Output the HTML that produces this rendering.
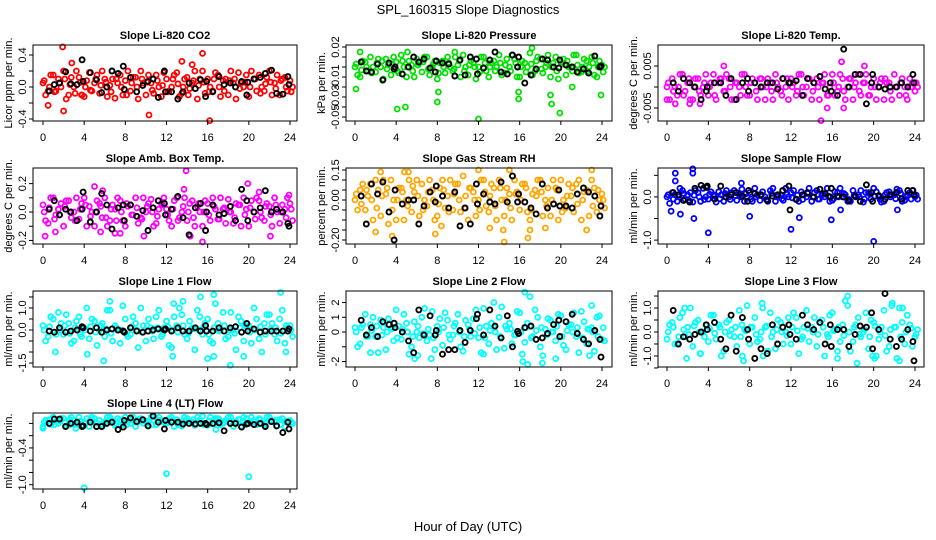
<!DOCTYPE html>
<html><head><meta charset="utf-8">
<style>
html,body{margin:0;padding:0;background:#fff;}
svg{display:block;font-family:"Liberation Sans",Arial,sans-serif;}
</style></head>
<body>
<svg id="chart" width="936" height="540" viewBox="0 0 936 540" xmlns="http://www.w3.org/2000/svg">
<rect x="0" y="0" width="936" height="540" fill="#fff"/>
<text x="468" y="14" text-anchor="middle" font-size="13">SPL_160315  Slope Diagnostics</text>
<text x="468" y="531" text-anchor="middle" font-size="13">Hour of Day (UTC)</text>
</svg>
<script>
const HOURS = [0,0.5,1,1.5,2,2.5,3,3.5,4,4.5,5,5.5,6,6.5,7,7.5,8,8.5,9,9.5,10,10.5,11,11.5,12,12.5,13,13.5,14,14.5,15,15.5,16,16.5,17,17.5,18,18.5,19,19.5,20,20.5,21,21.5,22,22.5,23,23.5,24];
const BLACK_HOURS = [0.6,1.1,1.6,2.2,2.7,3.3,3.8,3.9,4.6,5.2,5.7,6.2,6.7,7.3,7.8,7.9,8.5,9.1,9.7,10.2,10.7,11.2,11.8,11.9,12.5,13.1,13.6,14.2,14.8,15.3,15.8,15.9,16.5,17.1,17.6,18.2,18.7,19.3,19.8,19.9,20.5,21.1,21.6,22.2,22.7,23.3,23.8,23.9];
const X_TICKS = [0,4,8,12,16,20,24];
const TITLES = ["Slope Li-820 CO2","Slope Li-820 Pressure","Slope Li-820 Temp.","Slope Amb. Box Temp.","Slope Gas Stream RH","Slope Sample Flow","Slope Line 1 Flow","Slope Line 2 Flow","Slope Line 3 Flow","Slope Line 4 (LT) Flow"];
const YLABELS = ["Licor ppm per min.","kPa per min.","degrees C per min.","degrees C per min.","percent per min.","ml/min per min.","ml/min per min.","ml/min per min.","ml/min per min.","ml/min per min."];

const co2A = [0.05,-0.05,0.15,0.1,0.2,-0.1,0.0,0.12,-0.12,0.18,0.05,-0.08,0.1,0.02,-0.14,0.15,0.08,-0.05,0.12,0.2,-0.1,0.05,0.15,-0.12,0.1,0.0,0.18,-0.08,0.12,0.05,-0.15,0.2,0.1,-0.05,0.15,0.08,-0.1,0.05,0.18,0.0,-0.12,0.1,0.15,-0.05,0.2,0.05,-0.1,0.12,0.08];
const co2B = [-0.1,0.15,-0.05,0.0,-0.15,0.12,0.2,-0.1,0.08,-0.05,0.15,0.2,-0.12,0.1,0.05,-0.1,0.2,0.12,-0.15,0.05,0.15,-0.08,0.0,0.18,-0.05,0.15,-0.12,0.1,-0.02,0.2,0.1,-0.08,0.0,0.18,-0.12,0.1,0.2,-0.15,0.05,0.15,0.2,-0.05,0.0,0.12,-0.1,0.15,0.1,-0.05,0.0];
const co2C = [0.08,0.0,-0.06,0.05,0.1,0.03,-0.08,0.06,0.0,-0.04,0.1,0.02,0.06,-0.06,0.1,0.0,-0.1,0.05,0.0,0.1,0.06,-0.04,0.08,0.02,-0.06,0.1,0.04,0.0,-0.1,0.08,0.02,0.06,-0.06,0.1,0.0,-0.05,0.08,0.1,-0.02,0.06,0.0,0.1,-0.08,0.04,0.06,-0.02,0.08,0.0,-0.06];
const co2OutT = [1.9,2.0,0.5,10.3,15.5,16.2,2.8,3.8,13.5,14.5];
const co2OutY = [0.5,-0.3,-0.23,-0.35,0.42,-0.42,0.3,-0.1,0.32,0.28];
const co2Black = [-0.05,0.03,0.05,0.19,0.04,0.03,0.34,0.07,0.18,0.09,-0.07,0.0,0.2,0.17,0.26,-0.03,0.12,-0.06,0.02,0.07,0.1,-0.13,0.2,-0.06,-0.06,-0.15,-0.06,0.05,-0.02,0.09,-0.12,0.07,-0.06,0.13,0.03,0.05,0.0,0.07,-0.1,0.06,0.1,0.12,0.17,0.21,-0.08,-0.09,0.13,0.03];

const presA = [0.0,-0.01,0.005,0.01,-0.005,0.0,0.008,-0.008,0.005,0.012,-0.01,0.002,0.008,-0.005,0.01,0.0,-0.012,0.006,0.01,-0.004,0.002,0.012,-0.008,0.004,0.0,0.01,-0.01,0.006,0.012,-0.006,0.0,0.008,-0.01,0.004,0.014,-0.004,0.008,0.0,-0.01,0.01,0.005,-0.008,0.0,0.012,-0.005,0.006,0.01,-0.01,0.002];
const presB = [-0.008,0.006,-0.004,0.0,0.008,-0.012,0.002,0.01,-0.006,0.0,0.006,-0.01,0.004,0.01,-0.008,0.006,0.004,-0.006,0.0,0.01,-0.01,0.0,0.006,-0.012,0.01,-0.004,0.004,0.0,-0.008,0.008,0.012,-0.01,0.006,0.0,-0.008,0.01,-0.006,0.012,0.004,-0.012,0.008,0.0,0.012,-0.006,0.008,0.0,-0.008,0.006,0.0];
const presC = [0.003,-0.003,0.0,-0.006,0.004,0.006,-0.002,0.003,-0.004,0.006,0.0,-0.004,0.002,0.005,-0.002,0.003,-0.006,0.0,0.004,-0.002,0.006,-0.004,0.002,0.0,-0.005,0.004,0.0,-0.004,0.004,0.002,-0.004,0.004,0.0,-0.005,0.003,0.006,-0.002,0.004,0.0,-0.004,0.003,0.006,-0.004,0.002,0.0,-0.004,0.004,0.0,-0.005];
const presOutT = [0.1,0.5,4.1,4.9,8.0,12.0,15.9,19.0,19.1,19.9,23.9,9.7,17.2,15.9,8.1,5.1,21.1];
const presOutY = [-0.022,0.015,-0.042,-0.04,-0.035,-0.052,-0.032,-0.028,-0.037,-0.046,-0.028,0.015,0.019,-0.025,-0.025,0.015,-0.02];
const presBlack = [0.005,-0.004,-0.005,0.003,-0.013,0.004,-0.002,0.0,-0.007,0.0,0.01,0.005,0.008,-0.001,-0.005,0.006,0.004,0.003,-0.009,0.007,-0.008,0.01,0.008,-0.007,-0.001,0.007,0.015,-0.005,-0.007,0.012,0.0,0.01,-0.016,-0.008,-0.002,0.008,0.007,0.0,-0.001,0.007,0.002,0.0,-0.005,-0.002,-0.006,0.011,0.0,0.001];

const tempA = [0.0,0.002,-0.002,0.003,0.001,-0.003,0.002,0.0,-0.002,0.003,0.001,-0.001,0.002,-0.003,0.0,0.003,-0.002,0.001,0.002,-0.003,0.001,0.003,-0.001,0.0,0.002,-0.002,0.003,0.0,-0.003,0.002,0.001,-0.002,0.003,-0.001,0.002,0.0,-0.003,0.003,0.001,-0.002,0.002,0.0,-0.003,0.001,0.003,-0.002,0.0,0.002,-0.001];
const tempB = [-0.003,0.0,0.003,-0.001,-0.003,0.002,-0.002,0.003,0.001,-0.003,0.002,0.003,-0.003,0.001,0.003,-0.002,0.002,-0.003,0.0,0.002,-0.003,0.0,0.002,-0.003,0.001,0.003,-0.002,0.002,0.001,-0.003,0.003,0.0,-0.002,0.003,-0.003,0.002,0.001,-0.002,0.003,0.0,-0.003,0.002,0.001,-0.003,0.0,0.002,-0.003,0.001,0.0];
const tempC = [0.001,-0.001,0.0,-0.002,0.002,0.0,-0.001,0.001,0.0,-0.002,0.002,-0.001,0.0,0.001,-0.002,0.0,0.001,-0.001,0.002,0.0,-0.001,0.001,-0.002,0.002,0.0,-0.001,0.0,0.002,-0.001,0.0,0.001,-0.002,0.001,0.0,-0.001,0.002,0.0,-0.001,0.001,-0.002,0.0,0.001,0.002,-0.001,0.0,0.001,-0.002,0.0,0.001];
const tempOutT = [0.0,0.8,2.2,3.2,5.5,15.5,14.9,16.9,19.1,17.1];
const tempOutY = [-0.003,-0.004,-0.004,-0.004,0.005,-0.005,-0.008,0.006,0.005,-0.005];
const tempBlack = [0.001,-0.001,0.002,0.001,0.0,-0.003,-0.001,0.0,0.001,0.001,-0.002,0.002,-0.003,0.001,0.002,-0.001,0.001,0.0,0.001,0.001,-0.0005,0.002,0.001,0.001,0.0015,-0.002,0.002,0.001,0.0025,-0.0005,0.001,-0.001,-0.002,0.009,0.0,0.003,0.003,-0.004,0.001,0.003,0.0,-0.0005,0.0,0.0,0.001,0.0,0.003,0.001];

const boxA = [0.05,-0.08,0.1,0.02,-0.1,0.08,0.0,-0.05,0.1,0.04,-0.1,0.06,0.1,-0.06,0.02,0.08,-0.1,0.05,0.1,-0.04,0.0,0.09,-0.08,0.06,0.02,-0.1,0.1,0.0,-0.06,0.08,0.04,-0.1,0.06,0.1,-0.05,0.02,0.09,-0.08,0.05,0.1,-0.1,0.0,0.08,-0.06,0.04,0.1,-0.08,0.02,0.06];
const boxB = [-0.06,0.1,-0.02,0.06,0.08,-0.04,0.1,0.06,-0.1,0.0,0.08,-0.04,-0.1,0.05,0.1,-0.06,0.04,-0.02,-0.08,0.1,0.06,-0.1,0.02,0.1,-0.06,0.08,-0.04,0.1,0.06,-0.1,0.0,0.08,-0.06,0.02,0.1,-0.08,0.0,0.06,-0.1,0.02,0.08,0.1,-0.04,0.06,-0.1,0.0,0.05,0.1,-0.06];
const boxC = [0.0,0.03,-0.05,-0.02,0.04,0.0,-0.06,0.02,0.05,-0.03,0.0,0.04,-0.04,0.02,-0.06,0.0,0.06,-0.02,0.03,-0.05,0.04,0.0,-0.03,0.05,-0.02,0.02,-0.06,0.04,0.0,-0.04,0.06,0.0,-0.02,0.04,-0.05,0.03,0.0,-0.04,0.05,-0.02,0.03,-0.05,0.0,0.04,-0.02,0.05,0.0,-0.04,0.02];
const boxOutT = [0.2,1.2,5.0,5.8,7.0,13.9,13.7,15.5,14.3,19.9,22.1,23.9,9.8,7.5,5.6,21.0];
const boxOutY = [-0.17,-0.14,0.18,0.15,-0.15,0.29,0.16,-0.21,-0.17,0.2,-0.17,0.12,-0.17,-0.15,-0.14,0.14];
const boxBlack = [0.02,0.08,-0.02,0.02,0.0,-0.06,0.02,0.14,-0.07,0.0,0.13,0.05,-0.12,0.03,0.05,-0.06,0.05,-0.03,0.01,-0.13,0.03,0.08,0.06,-0.02,0.02,0.11,-0.04,-0.16,0.03,0.06,-0.13,0.0,0.05,-0.02,-0.01,0.04,-0.06,0.16,0.08,-0.06,0.0,0.03,0.15,0.0,0.02,0.0,-0.08,-0.1];

const rhA = [0.0,0.05,-0.05,0.08,0.1,-0.08,0.03,0.1,-0.1,0.06,0.0,-0.06,0.1,0.08,-0.03,0.05,-0.08,0.1,0.02,-0.05,0.08,0.12,-0.1,0.04,0.0,0.1,-0.06,0.06,0.1,-0.08,0.03,0.1,-0.05,0.08,-0.1,0.05,0.1,0.0,-0.08,0.06,0.1,-0.04,0.02,0.08,-0.1,0.05,0.1,-0.06,0.03];
const rhB = [-0.05,0.08,0.02,-0.1,0.05,0.1,-0.12,0.0,0.06,-0.1,0.1,0.04,-0.08,0.0,0.1,-0.1,0.06,-0.04,0.1,0.08,-0.06,0.02,0.06,-0.08,0.1,-0.03,0.08,-0.1,0.0,0.06,-0.1,0.04,0.08,-0.06,0.03,0.1,-0.08,0.06,0.1,-0.1,0.0,0.08,-0.06,0.1,0.04,-0.08,0.06,0.0,-0.04];
const rhC = [0.03,-0.02,0.05,0.0,-0.04,0.02,0.06,-0.05,0.0,0.04,-0.03,0.07,0.02,-0.05,0.04,0.0,-0.02,0.05,-0.06,0.03,0.0,-0.04,0.06,0.0,-0.05,0.04,0.02,-0.03,0.06,0.0,-0.04,0.03,0.0,0.06,-0.05,0.02,0.04,-0.03,0.0,0.05,-0.06,0.02,0.06,-0.02,0.0,0.04,-0.03,0.05,0.0];
const rhOutT = [2.0,2.5,3.6,4.8,5.2,12.0,14.4,14.5,16.8,17.0,18.5,22.5,23.0,15.0,7.8,8.4,13.1];
const rhOutY = [-0.16,0.14,-0.18,0.14,0.14,0.15,-0.15,-0.21,-0.19,-0.15,-0.14,-0.15,0.15,0.15,-0.17,-0.13,-0.14];
const rhBlack = [0.02,-0.12,0.08,0.03,0.09,-0.06,-0.2,0.05,-0.02,0.0,0.0,-0.12,-0.03,0.04,-0.01,0.07,0.02,-0.04,0.04,-0.13,-0.04,-0.12,0.08,-0.02,0.03,-0.01,-0.02,0.09,-0.01,0.12,-0.01,0.03,-0.01,-0.04,-0.07,0.08,-0.04,-0.02,0.05,-0.03,-0.03,-0.04,0.03,0.06,0.04,0.02,-0.08,-0.03];

const sfA = [0.0,0.1,-0.1,0.15,0.05,-0.12,0.1,0.2,-0.05,0.05,0.12,-0.1,0.0,0.15,0.05,-0.1,0.1,0.2,-0.08,0.0,0.15,-0.1,0.05,0.2,0.1,-0.05,0.12,0.0,-0.1,0.15,0.05,0.2,-0.08,0.1,0.0,-0.1,0.15,0.05,-0.12,0.1,0.2,0.0,-0.1,0.12,0.05,0.15,-0.08,0.1,0.0];
const sfB = [-0.15,0.05,0.2,-0.05,0.1,0.15,-0.1,0.0,0.12,-0.12,0.05,0.15,0.1,-0.08,0.18,0.0,-0.1,0.05,0.12,-0.1,0.2,0.05,-0.08,0.0,0.15,-0.1,0.05,0.2,0.1,-0.05,0.0,-0.1,0.12,0.2,0.05,-0.1,0.0,0.15,0.1,-0.05,0.12,-0.12,0.1,0.05,0.18,-0.1,0.05,0.15,-0.05];
const sfC = [0.05,-0.05,0.0,0.08,-0.08,0.04,0.0,-0.06,0.06,0.02,-0.04,0.08,-0.06,0.03,0.0,0.07,-0.05,0.0,0.05,-0.06,0.08,0.0,-0.04,0.06,-0.02,0.04,-0.06,0.08,0.0,-0.05,0.06,0.02,-0.04,0.0,0.08,-0.06,0.04,0.0,-0.05,0.07,0.02,-0.06,0.05,0.0,-0.04,0.08,0.0,-0.05,0.04];
const sfOutT = [0.8,0.8,1.3,2.5,2.5,2.6,0.4,4.0,8.0,12.0,12.8,15.9,20.0,7.2,22.3,16.8];
const sfOutY = [0.55,0.37,-0.4,0.65,0.55,-0.5,-0.33,-0.83,-0.45,-0.75,-0.48,-0.53,-1.03,0.32,-0.3,-0.3];
const sfBlack = [0.1,0.05,-0.08,-0.12,0.2,0.27,0.22,0.25,-0.05,0.25,0.0,0.05,0.1,0.02,-0.1,0.15,0.08,0.05,-0.08,0.02,0.05,0.15,0.25,-0.3,-0.06,0.05,0.1,0.0,0.18,0.08,0.0,0.2,0.02,0.0,-0.08,0.02,-0.1,0.28,0.1,-0.1,0.03,-0.05,0.05,0.1,-0.05,0.15,0.15,0.05];

const l1A = [0.2,-0.3,0.5,0.8,-0.2,0.3,-0.5,0.6,0.1,-0.4,0.4,0.0,-0.3,0.9,0.2,-0.6,0.5,-0.2,0.3,1.0,-0.5,0.1,0.6,-0.3,0.4,-0.8,0.2,0.7,-0.4,0.1,0.9,-0.2,0.5,-0.6,0.3,0.8,-0.3,0.0,0.6,-0.5,0.2,1.0,-0.4,0.3,0.7,-0.2,0.5,-0.6,0.2];
const l1B = [-0.5,0.6,-0.2,0.3,0.7,-0.6,0.4,-0.3,1.0,0.5,-0.7,0.3,0.9,-0.5,0.0,1.1,-0.3,0.6,-0.8,0.2,0.5,-0.4,0.9,0.1,-0.7,0.6,1.0,-0.2,0.4,-0.9,0.6,0.3,-0.5,1.2,0.0,-0.4,0.8,-0.9,0.4,0.2,-0.6,0.5,-1.0,0.7,0.3,-0.5,0.9,0.1,-0.3];
const l1C = [0.0,0.15,-0.1,0.0,0.2,-0.15,0.1,-0.2,0.0,0.15,-0.1,0.2,0.05,-0.15,0.1,0.0,-0.2,0.15,0.0,-0.1,0.2,-0.05,0.1,-0.2,0.15,0.0,-0.1,0.2,-0.15,0.05,0.0,0.15,-0.2,0.1,-0.05,0.2,0.0,-0.15,0.1,0.2,-0.1,0.0,0.15,-0.2,0.05,0.1,-0.15,0.2,0.0];
const l1OutT = [5.9,6.5,12.6,12.7,13.6,15.3,16.0,16.6,18.2,19.5,23.1,23.6,1.2,4.3,16.6];
const l1OutY = [-1.4,1.3,-1.2,1.2,1.3,1.5,-1.3,1.6,-1.6,-1.2,1.7,-1.0,-1.0,-1.1,-1.2];
const l1Black = [-0.05,-0.1,0.1,-0.1,-0.05,0.0,0.15,0.1,-0.05,0.1,-0.1,0.0,0.05,0.0,-0.05,-0.1,0.1,-0.05,-0.1,-0.05,0.0,0.05,0.0,0.05,-0.05,0.1,-0.05,-0.05,0.1,-0.05,0.2,-0.05,-0.05,0.1,-0.05,0.1,0.15,-0.1,0.3,-0.05,0.05,-0.1,-0.05,-0.05,-0.05,-0.05,-0.05,0.05];

const l2A = [0.3,-0.8,1.2,0.5,-0.3,0.8,-1.2,0.2,1.5,-0.5,0.6,-1.0,0.0,1.0,-0.6,1.4,0.4,-0.9,0.8,-0.2,1.2,-1.3,0.5,0.9,-0.4,1.6,-0.8,0.3,1.0,-1.1,0.6,-0.2,1.3,-0.7,0.4,1.5,-1.0,0.2,0.8,-0.6,1.1,-1.2,0.5,-0.3,1.4,-0.8,0.3,1.0,-0.5];
const l2B = [-1.0,0.5,-0.3,1.0,-1.4,0.3,0.9,-0.6,0.4,1.2,-1.5,0.7,-0.4,1.6,-0.2,-1.2,0.9,1.3,-0.5,0.6,-1.0,0.8,-0.3,1.5,-1.4,0.4,0.6,-1.2,1.7,0.2,-0.8,1.4,-1.5,0.6,-0.3,1.0,-1.6,0.9,0.0,1.2,-0.9,0.5,1.3,-1.4,0.7,0.2,-1.3,1.1,-0.6];
const l2C = [0.0,0.3,-0.3,0.1,0.4,-0.2,0.0,0.3,-0.4,0.2,0.0,-0.3,0.4,-0.1,0.2,-0.4,0.0,0.3,-0.2,0.4,0.0,-0.3,0.2,-0.1,0.3,-0.4,0.1,0.0,-0.3,0.4,0.2,-0.2,0.0,0.3,-0.4,0.1,0.3,-0.2,0.0,0.4,-0.3,0.1,0.0,0.3,-0.4,0.2,0.0,-0.3,0.3];
const l2OutT = [1.5,5.8,6.1,7.4,12.5,13.5,16.5,17.0,16.3,16.8,18.2,19.5,22.8,23.0];
const l2OutY = [-1.4,-1.8,-1.6,-1.8,-1.5,2.0,2.7,2.4,-2.0,-2.2,-2.1,-1.8,-1.6,1.8];
const l2Black = [0.8,-0.2,0.3,-0.3,0.7,0.5,0.6,0.3,0.0,-0.6,-1.4,1.5,-0.2,1.1,-0.2,0.1,-1.5,-1.2,-1.2,0.1,-0.7,0.1,0.9,1.2,-0.2,1.5,0.4,-0.4,1.1,-1.0,0.05,-0.1,0.3,0.4,-0.5,-0.4,-0.1,0.5,0.8,-0.3,0.7,1.2,-0.1,-0.5,-0.8,0.1,-0.5,-1.7];

const l3A = [-0.3,0.4,-0.5,0.8,0.2,-0.6,0.5,0.0,-0.4,0.7,0.3,-0.8,0.5,-0.2,0.9,0.1,-0.5,0.6,-0.3,0.2,0.8,-0.7,0.4,0.0,-0.5,0.6,-0.3,0.9,0.2,-0.6,0.5,-0.1,0.8,-0.8,0.3,1.1,-0.4,0.6,0.0,-0.7,0.4,-0.3,0.9,-0.6,0.2,1.0,-0.5,0.3,-0.2];
const l3B = [0.3,-0.5,0.6,-0.2,1.0,0.4,-0.9,0.3,0.7,-0.3,-1.0,0.4,0.1,-0.6,0.3,1.1,0.2,-0.4,1.0,-0.8,0.0,0.5,-0.5,0.6,0.8,-0.9,0.2,-0.4,0.6,0.4,-1.0,0.7,0.1,-0.4,1.3,-0.8,0.3,-0.2,0.8,0.5,-1.0,0.2,-0.8,1.1,-1.1,0.4,0.7,-0.6,0.1];
const l3C = [0.0,0.2,-0.2,0.1,-0.1,0.25,0.0,-0.2,0.15,-0.05,0.2,0.0,-0.15,0.2,-0.2,0.05,0.2,-0.1,0.0,0.25,-0.2,0.1,0.0,-0.15,0.2,0.05,-0.2,0.15,0.0,-0.1,0.2,-0.2,0.05,0.2,-0.15,0.0,0.2,-0.1,0.1,-0.2,0.25,0.0,-0.15,0.1,0.2,-0.2,0.0,0.15,-0.1];
const l3OutT = [1.7,1.9,3.2,7.3,7.4,9.2,9.3,17.5,18.4,19.9,20.1,21.8,22.5,22.8,16.5];
const l3OutY = [1.0,-1.1,-0.9,-1.0,-1.2,1.2,-1.0,1.5,-1.3,-1.0,-1.1,1.2,-1.2,1.0,-1.1];
const l3Black = [0.9,-0.5,-0.2,-0.3,-0.1,0.0,0.3,0.1,0.4,-0.3,-0.7,0.7,-0.8,0.6,0.1,-0.3,-1.1,-0.7,-0.9,0.3,-0.5,0.2,0.3,-0.1,-0.3,0.7,0.3,0.1,0.4,-0.5,0.3,-0.6,0.1,0.1,-0.6,-0.1,0.25,0.2,0.8,-0.7,0.1,1.6,-0.3,-0.6,-0.3,0.1,-0.4,-1.2];

const l4A = [-0.05,0.05,0.1,0.0,0.08,-0.03,0.05,0.1,0.02,-0.05,0.08,0.05,0.0,0.1,-0.03,0.06,0.1,0.0,-0.05,0.08,0.04,0.1,-0.02,0.05,0.0,0.1,0.06,-0.04,0.08,0.02,0.1,0.12,-0.03,0.05,0.08,0.0,0.1,-0.05,0.06,0.1,0.0,0.05,0.08,-0.03,0.1,0.02,0.06,-0.05,0.05];
const l4B = [0.05,-0.02,0.03,0.08,-0.04,0.1,0.0,-0.03,0.08,0.1,0.0,-0.05,0.1,0.04,0.08,-0.02,0.03,0.1,0.06,0.0,-0.04,0.05,0.1,0.02,0.08,-0.05,0.0,0.1,0.04,-0.03,0.06,0.0,0.1,0.08,-0.02,0.05,0.1,0.03,-0.04,0.08,0.1,-0.02,0.0,0.1,0.05,-0.04,0.08,0.03,0.0];
const l4C = [0.02,0.06,-0.02,0.04,0.02,0.06,-0.02,0.04,0.0,0.06,0.02,-0.02,0.04,0.06,0.0,0.03,-0.02,0.06,0.02,0.04,0.0,-0.02,0.06,0.03,0.02,0.05,-0.02,0.04,0.0,0.06,0.02,-0.02,0.04,0.0,0.06,0.02,0.03,0.0,0.06,-0.02,0.04,0.02,0.06,0.0,0.03,0.05,-0.02,0.04,0.02];
const l4OutT = [0.0,4.0,12.0,20.0,16.8,3.2];
const l4OutY = [-0.08,-1.05,-0.82,-0.87,-0.1,-0.08];
const l4Black = [0.0,0.07,0.07,-0.05,0.0,0.02,-0.05,-0.04,0.02,-0.05,-0.05,0.0,0.02,-0.1,-0.06,0.05,0.09,0.03,0.06,-0.04,0.12,0.02,-0.09,0.05,0.02,0.02,-0.01,0.0,-0.01,0.0,0.0,-0.02,0.0,0.01,-0.12,0.0,0.0,-0.06,-0.01,0.0,-0.02,0.0,-0.05,0.03,-0.04,-0.15,0.02,-0.09];

const Y_TICKS = [[-0.4,-0.2,0,0.2,0.4],[-0.05,-0.04,-0.03,-0.02,-0.01,0,0.01,0.02],[-0.005,0,0.005],[-0.2,-0.1,0,0.1,0.2],[-0.2,-0.15,-0.1,-0.05,0,0.05,0.1,0.15],[-1,-0.5,0,0.5],[-1.5,-1,-0.5,0,0.5,1,1.5],[-2,-1,0,1,2],[-1.5,-1,-0.5,0,0.5,1,1.5],[-1,-0.8,-0.6,-0.4,-0.2,0]];
const Y_TICK_LABELS = [["-0.4","","0.0","","0.4"],["-0.05","","-0.03","","-0.01","","","0.02"],["-0.005","","0.005"],["-0.2","","0.0","","0.2"],["-0.20","","","","0.00","","","0.15"],["-1.0","","0.0",""],["-1.5","","","0.0","","1.0",""],["-2","","0","1","2"],["","-1.0","","0.0","","1.0",""],["-1.0","","","-0.4","",""]];

const svg = document.getElementById('chart');
const NS = 'http://www.w3.org/2000/svg';
function mk(tag, attrs, parent){ const e=document.createElementNS(NS,tag); for(const k in attrs) e.setAttribute(k,attrs[k]); (parent||svg).appendChild(e); return e; }

const COLS = [{l:33,r:297,x0:43,x24:290},{l:346,r:612,x0:355,x24:602},{l:658,r:924,x0:667,x24:915}];
const ROWS = [{t:45,b:121},{t:168,b:244},{t:291,b:367},{t:413,b:489}];
const DOMAINS = [[-0.425,0.525],[-0.054,0.022],[-0.0081,0.0100],[-0.225,0.31],[-0.22,0.16],[-1.09,0.67],[-1.68,1.77],[-2.37,2.78],[-1.46,1.71],[-1.07,0.17]];
const COLORS = ['#FF0000','#00E000','#FF00FF','#FF00FF','#FFA500','#0000FF','#00FFFF','#00FFFF','#00FFFF','#00FFFF'];
const SERIES = [
 [co2A,co2B,co2C,co2OutT,co2OutY,co2Black],[presA,presB,presC,presOutT,presOutY,presBlack],[tempA,tempB,tempC,tempOutT,tempOutY,tempBlack],
 [boxA,boxB,boxC,boxOutT,boxOutY,boxBlack],[rhA,rhB,rhC,rhOutT,rhOutY,rhBlack],[sfA,sfB,sfC,sfOutT,sfOutY,sfBlack],
 [l1A,l1B,l1C,l1OutT,l1OutY,l1Black],[l2A,l2B,l2C,l2OutT,l2OutY,l2Black],[l3A,l3B,l3C,l3OutT,l3OutY,l3Black],[l4A,l4B,l4C,l4OutT,l4OutY,l4Black]];

for(let p=0;p<10;p++){
  const col=COLS[p%3], row=ROWS[Math.floor(p/3)];
  const g = mk('g',{});
  
  
  const dom=DOMAINS[p];
  const xs = h => col.x0 + (col.x24-col.x0)*h/24;
  const ys = v => row.b - (v-dom[0])/(dom[1]-dom[0])*(row.b-row.t);
  const ttl = mk('text',{x:(col.l+col.r)/2,y:row.t-6,'text-anchor':'middle','font-size':'11','font-weight':'bold'},g);
  ttl.textContent = TITLES[p];
  
  
  const tx = col.l-21, tyc=(row.t+row.b)/2;
  const yl = mk('text',{x:tx,y:tyc,'text-anchor':'middle','font-size':'11',transform:'rotate(-90 '+tx+' '+tyc+')'},g);
  yl.textContent = YLABELS[p];
  
  
  const [A,B,C,OT,OY,BL] = SERIES[p];
  const clr = COLORS[p];
  const drawPt=(x,y,c,w,name)=>{ const c1=mk('circle',{cx:x.toFixed(1),cy:y.toFixed(1),r:2.5,fill:'none',stroke:c,'stroke-width':w},g);
    
     };
  for(let i=0;i<Math.min(HOURS.length,A.length);i++) drawPt(xs(HOURS[i]),ys(A[i]),clr,1.8,'point');
  for(let i=0;i<Math.min(HOURS.length,B.length);i++) drawPt(xs(HOURS[i]+0.25),ys(B[i]),clr,1.8,'point');
  for(let i=0;i<Math.min(HOURS.length,C.length);i++) drawPt(xs(HOURS[i]+0.12),ys(C[i]),clr,1.8,'point');
  for(let i=0;i<Math.min(OT.length,OY.length);i++) drawPt(xs(OT[i]),ys(OY[i]),clr,1.8,'outlier-point');
  for(let i=0;i<Math.min(BLACK_HOURS.length,BL.length);i++) drawPt(xs(BLACK_HOURS[i]),ys(BL[i]),'#000',1.9,'reference-point');
  const bx = mk('rect',{x:col.l,y:row.t,width:col.r-col.l,height:row.b-row.t,fill:'none',stroke:'#000','stroke-width':1},g);
  
  
  const xa = mk('g',{},g);
  
  
  mk('line',{x1:xs(0),x2:xs(24),y1:row.b,y2:row.b,stroke:'#000'},xa);
  X_TICKS.forEach(h=>{ mk('line',{x1:xs(h),x2:xs(h),y1:row.b,y2:row.b+4,stroke:'#000'},xa);
    const t=mk('text',{x:xs(h),y:row.b+20,'text-anchor':'middle','font-size':'11'},xa); t.textContent=String(h);
    
     });
  const ya = mk('g',{},g);
  
  
  const tk=Y_TICKS[p], tl=Y_TICK_LABELS[p];
  mk('line',{x1:col.l,x2:col.l,y1:ys(tk[0]),y2:ys(tk[tk.length-1]),stroke:'#000'},ya);
  tk.forEach((v,i)=>{ const y=ys(v); mk('line',{x1:col.l-4,x2:col.l,y1:y,y2:y,stroke:'#000'},ya);
    if(tl[i]){ const lx=col.l-7; const t=mk('text',{x:lx,y:y,'text-anchor':'middle','font-size':'11',transform:'rotate(-90 '+lx+' '+y+')'},ya); t.textContent=tl[i];
      
       } });
}
</script>
</body></html>
